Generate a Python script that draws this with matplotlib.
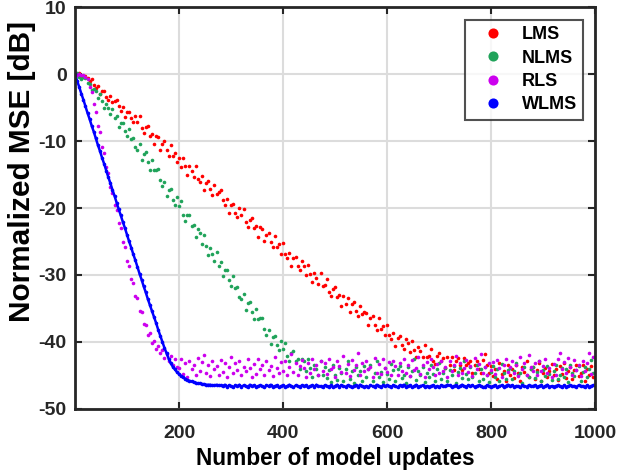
import numpy as np
import matplotlib
matplotlib.use('Agg')
import matplotlib.pyplot as plt

plt.rcParams['font.family'] = ['Liberation Sans', 'DejaVu Sans']
plt.rcParams['font.weight'] = 'bold'
plt.rcParams['axes.unicode_minus'] = False

# sample index (every 4th model update)
updates = np.arange(0, 1000, 4)

lms = [
    0.1, -0.2, 0.2, -0.3, -0.5, -0.3, -0.6, -1.1, -0.8, -1.6,
    -2.1, -1.8, -2.9, -2.5, -2.5, -3.4, -3.9, -3.2, -4.1, -4.0,
    -3.8, -4.8, -5.5, -4.9, -6.4, -5.6, -5.6, -6.6, -7.1, -6.2,
    -7.1, -6.3, -8.1, -8.8, -7.9, -7.7, -9.2, -8.9, -10.5, -9.3,
    -9.4, -11.3, -10.4, -10.0, -11.4, -12.2, -10.6, -12.2, -11.8, -13.2,
    -12.5, -13.9, -12.5, -13.8, -15.0, -13.7, -14.5, -15.4, -13.8, -15.7,
    -16.1, -15.2, -17.3, -16.2, -15.9, -17.2, -18.1, -16.5, -17.9, -17.6,
    -17.3, -18.8, -19.6, -18.7, -20.7, -19.6, -19.4, -20.7, -21.4, -20.0,
    -21.1, -20.2, -22.1, -22.8, -21.8, -21.5, -23.0, -22.7, -24.4, -22.9,
    -23.1, -25.0, -24.0, -23.7, -25.1, -25.8, -24.2, -25.8, -25.4, -26.8,
    -25.3, -26.8, -27.5, -26.7, -28.7, -27.5, -27.3, -28.7, -29.3, -27.9,
    -28.6, -30.0, -28.5, -29.9, -31.0, -29.7, -30.4, -31.3, -29.7, -31.6,
    -31.5, -30.6, -32.5, -33.2, -32.1, -31.8, -33.3, -33.0, -34.6, -33.2,
    -34.4, -33.4, -35.6, -34.4, -34.0, -35.4, -36.2, -34.6, -35.9, -35.6,
    -35.7, -37.5, -36.5, -36.1, -37.5, -38.2, -36.5, -38.0, -37.6, -39.0,
    -37.5, -38.9, -39.6, -38.7, -40.6, -39.4, -39.1, -40.4, -41.0, -39.5,
    -40.2, -41.5, -39.9, -41.2, -42.2, -40.8, -41.4, -42.2, -40.5, -42.3,
    -42.1, -41.0, -42.8, -43.3, -42.1, -41.6, -42.9, -42.4, -43.9, -42.3,
    -43.4, -42.3, -44.2, -42.9, -42.4, -43.5, -44.2, -42.4, -43.5, -43.1,
    -42.9, -44.6, -43.4, -42.9, -44.0, -44.6, -42.7, -41.8, -43.5, -44.7,
    -43.6, -45.1, -44.0, -45.6, -43.2, -44.8, -44.3, -45.9, -43.5, -44.9,
    -44.1, -45.4, -43.4, -44.7, -45.8, -43.8, -44.5, -42.9, -45.2, -44.0,
    -43.7, -45.5, -44.2, -43.1, -45.9, -44.6, -43.9, -45.3, -44.4, -43.3,
    -45.0, -44.1, -45.7, -43.6, -44.8, -43.2, -45.4, -44.3, -43.8, -45.6,
    -44.2, -43.5, -45.1, -44.7, -43.4, -45.8, -44.0, -44.9, -43.6, -45.2,
]

nlms = [
    0.0, 0.2, -0.4, -0.7, -0.5, -0.6, -1.3, -1.5, -2.4, -2.2,
    -2.5, -3.6, -3.0, -4.0, -5.0, -4.4, -5.1, -5.9, -5.2, -6.5,
    -6.2, -7.9, -7.3, -7.3, -8.5, -9.3, -8.2, -9.7, -9.6, -10.9,
    -11.3, -10.5, -12.8, -11.9, -11.7, -13.2, -14.3, -12.8, -14.3, -14.3,
    -14.1, -15.8, -16.7, -16.1, -18.2, -17.3, -17.2, -18.8, -19.6, -18.4,
    -19.7, -19.0, -21.1, -22.0, -21.1, -21.0, -22.7, -22.6, -24.4, -23.2,
    -23.8, -25.4, -24.1, -25.7, -27.0, -25.9, -26.8, -27.9, -26.5, -28.6,
    -28.0, -30.1, -29.3, -29.2, -30.7, -31.7, -30.2, -32.0, -31.8, -33.3,
    -33.6, -32.8, -35.2, -34.2, -34.0, -35.6, -36.6, -35.1, -36.6, -36.5,
    -36.4, -38.0, -38.9, -38.2, -40.3, -39.2, -39.1, -40.5, -41.2, -39.8,
    -41.0, -40.1, -42.1, -42.8, -41.7, -41.4, -42.9, -42.5, -44.1, -42.6,
    -42.9, -44.4, -42.5, -43.9, -45.2, -43.4, -44.1, -44.9, -42.9, -44.9,
    -43.8, -45.4, -44.2, -46.0, -43.5, -44.9, -45.7, -43.9, -44.6, -45.8,
    -44.0, -42.9, -45.5, -44.4, -46.1, -43.7, -45.0, -44.3, -45.9, -43.6,
    -45.2, -44.1, -43.4, -45.8, -44.7, -42.8, -45.3, -44.5, -46.0, -43.9,
    -44.8, -45.6, -43.3, -44.2, -45.9, -44.0, -43.6, -45.4, -44.9, -46.2,
    -43.7, -45.1, -44.4, -42.6, -45.7, -44.3, -45.0, -43.8, -46.0, -44.6,
    -45.3, -43.5, -44.8, -45.9, -44.1, -43.2, -45.5, -44.7, -43.9, -45.8,
    -44.2, -45.0, -43.6, -46.1, -44.5, -43.9, -45.4, -42.9, -44.8, -45.6,
    -43.8, -45.2, -44.6, -43.4, -45.9, -44.1, -45.5, -43.7, -44.9, -46.0,
    -44.5, -43.6, -45.3, -44.0, -45.8, -43.3, -44.7, -45.5, -44.2, -43.9,
    -45.6, -44.4, -43.1, -45.0, -44.6, -46.1, -43.8, -44.9, -45.3, -44.1,
    -43.7, -45.4, -44.5, -42.8, -45.9, -44.2, -45.1, -43.6, -44.8, -45.7,
    -44.3, -43.5, -45.6, -44.9, -43.9, -45.2, -44.0, -46.0, -43.4, -44.7,
    -45.1, -44.2, -43.6, -45.8, -44.5, -43.8, -45.3, -44.1, -42.7, -44.6,
]

rls = [
    0.1, -0.1, 0.0, -0.2, -0.1, -0.5, -0.8, -1.9, -2.7, -4.5,
    -5.6, -7.8, -8.7, -10.9, -11.8, -13.9, -14.8, -16.9, -17.7, -19.5,
    -20.3, -22.3, -23.0, -25.1, -25.8, -27.9, -28.6, -30.6, -31.2, -33.1,
    -33.5, -35.4, -35.6, -37.3, -37.4, -38.9, -38.7, -40.1, -39.8, -41.0,
    -40.6, -41.7, -41.2, -42.4, -41.8, -42.9, -42.1, -43.4, -42.5, -43.7,
    -43.9, -42.6, -44.8, -43.1, -45.2, -42.9, -44.0, -43.5, -45.0, -42.4,
    -44.3, -43.0, -41.9, -44.7, -43.4, -45.1, -42.8, -44.1, -43.6, -44.9,
    -42.7, -44.5, -43.2, -45.3, -43.8, -42.3, -44.6, -43.1, -44.2, -42.9,
    -45.0, -43.7, -44.4, -42.5, -43.9, -45.2, -43.3, -44.8, -42.6, -44.0,
    -43.5, -44.9, -42.8, -44.2, -43.6, -45.1, -42.2, -43.9, -44.7, -43.0,
    -44.4, -42.9, -45.0, -43.7, -41.8, -44.5, -43.2, -44.9, -43.6, -42.7,
    -43.9, -45.3, -43.1, -44.6, -42.5, -44.0, -43.4, -45.0, -42.8, -44.3,
    -43.2, -44.8, -42.6, -44.1, -43.8, -45.2, -42.9, -43.6, -44.5, -42.1,
    -44.7, -43.3, -45.1, -42.7, -44.2, -43.5, -41.6, -44.9, -43.1, -44.4,
    -42.9, -44.1, -43.7, -45.2, -42.4, -44.6, -43.3, -44.8, -42.6, -43.9,
    -44.5, -43.0, -44.9, -42.8, -43.6, -45.0, -43.2, -44.3, -42.5, -44.7,
    -43.4, -45.1, -42.7, -44.2, -43.9, -42.3, -44.8, -43.5, -45.3, -43.0,
    -44.1, -42.6, -43.8, -45.0, -43.3, -44.6, -42.9, -44.4, -43.7, -45.2,
    -42.8, -44.3, -43.5, -42.1, -44.9, -43.2, -44.6, -43.9, -42.7, -44.5,
    -43.6, -45.1, -42.4, -44.0, -43.3, -41.8, -44.7, -43.8, -45.0, -43.1,
    -44.2, -43.0, -44.8, -42.7, -43.9, -45.2, -43.4, -42.6, -44.5, -43.7,
    -42.9, -44.6, -43.5, -45.1, -42.3, -44.0, -43.2, -44.9, -41.9, -43.8,
    -44.4, -43.1, -45.0, -42.8, -44.3, -43.6, -42.5, -44.7, -43.9, -45.2,
    -43.3, -44.9, -42.6, -41.7, -44.1, -43.0, -44.6, -42.4, -43.8, -45.0,
    -42.7, -44.2, -43.5, -45.1, -42.9, -44.4, -43.2, -41.6, -44.8, -42.3,
]

wlms = [
    0.0, -1.0, -1.9, -2.9, -3.8, -4.8, -5.8, -6.7, -7.7, -8.6,
    -9.6, -10.6, -11.5, -12.5, -13.4, -14.4, -15.4, -16.3, -17.3, -18.2,
    -19.2, -20.2, -21.1, -22.1, -23.0, -24.0, -25.0, -25.9, -26.9, -27.8,
    -28.8, -29.8, -30.7, -31.7, -32.6, -33.6, -34.5, -35.4, -36.3, -37.2,
    -38.2, -39.1, -40.0, -40.9, -41.7, -42.5, -43.2, -43.7, -44.1, -44.5,
    -44.8, -45.1, -45.3, -45.5, -45.7, -45.8, -45.9, -46.0, -46.1, -46.2,
    -46.2, -46.3, -46.3, -46.4, -46.4, -46.4, -46.5, -46.5, -46.4, -46.5,
    -46.5, -46.6, -46.4, -46.7, -46.5, -46.6, -46.8, -46.5, -46.6, -46.4,
    -46.7, -46.5, -46.6, -46.8, -46.4, -46.6, -46.5, -46.7, -46.6, -46.5,
    -46.6, -46.8, -46.5, -46.6, -46.4, -46.7, -46.6, -46.5, -46.8, -46.6,
    -46.5, -46.7, -46.6, -46.4, -46.6, -46.8, -46.5, -46.6, -46.7, -46.5,
    -46.6, -46.5, -46.8, -46.6, -46.5, -46.7, -46.4, -46.6, -46.6, -46.8,
    -46.5, -46.6, -46.7, -46.5, -46.8, -46.6, -46.4, -46.7, -46.5, -46.6,
    -46.7, -46.5, -46.6, -46.8, -46.6, -46.5, -46.7, -46.4, -46.6, -46.7,
    -46.6, -46.8, -46.5, -46.6, -46.7, -46.4, -46.6, -46.8, -46.5, -46.6,
    -46.5, -46.6, -46.7, -46.5, -46.6, -46.8, -46.5, -46.6, -46.4, -46.7,
    -46.6, -46.5, -46.8, -46.6, -46.4, -46.7, -46.6, -46.5, -46.7, -46.6,
    -46.7, -46.6, -46.5, -46.7, -46.6, -46.8, -46.5, -46.6, -46.6, -46.4,
    -46.5, -46.7, -46.6, -46.5, -46.8, -46.6, -46.4, -46.6, -46.7, -46.5,
    -46.6, -46.5, -46.7, -46.6, -46.5, -46.6, -46.8, -46.7, -46.5, -46.6,
    -46.7, -46.6, -46.5, -46.8, -46.6, -46.5, -46.7, -46.6, -46.4, -46.6,
    -46.5, -46.7, -46.6, -46.6, -46.8, -46.5, -46.6, -46.7, -46.5, -46.6,
    -46.6, -46.5, -46.7, -46.6, -46.5, -46.8, -46.6, -46.4, -46.7, -46.6,
    -46.7, -46.6, -46.5, -46.6, -46.8, -46.5, -46.7, -46.6, -46.5, -46.6,
    -46.6, -46.7, -46.5, -46.6, -46.6, -46.8, -46.5, -46.7, -46.6, -46.5,
]

labels = ['LMS', 'NLMS', 'RLS', 'WLMS']
colors = ['#ff0000', '#20a35a', '#cc00ee', '#0000ff']

fig = plt.figure(figsize=(6.2, 4.76), dpi=100)
ax = fig.add_axes([0.121, 0.141, 0.839, 0.844])

for series, lab, col in zip([lms, nlms, rls], labels[:3], colors[:3]):
    ax.plot(updates, series, linestyle='none', marker='o', markersize=2.6,
            markeredgewidth=0, color=col, label=lab)
ax.plot(updates, wlms, linestyle='-', linewidth=1.8, marker='o', markersize=2.6,
        markeredgewidth=0, color=colors[3], label=labels[3])

ax.set_xlim(0, 1000)
ax.set_ylim(-50, 10)
ax.set_xticks([200, 400, 600, 800, 1000])
ax.set_yticks(np.arange(-50, 11, 10))
ax.grid(True, color='#dcdcdc', linewidth=1.5)
ax.set_axisbelow(True)
ax.tick_params(direction='in', length=5, width=1.5, top=True, right=True,
               labelsize=14, colors='#262626')
ax.tick_params(axis='x', pad=11.5)
ax.tick_params(axis='y', pad=6)
for side in ax.spines.values():
    side.set_linewidth(2)
    side.set_color('#262626')
for t in ax.get_xticklabels() + ax.get_yticklabels():
    t.set_fontweight('bold')

ax.set_xlabel('Number of model updates', fontsize=16.3, fontweight='bold', labelpad=4)
ax.set_ylabel('Normalized MSE [dB]', fontsize=21.4, fontweight='bold')
ax.yaxis.set_label_coords(-0.075, 0.592)

leg = ax.legend(loc='upper right', fontsize=13, markerscale=2.8, frameon=True,
                fancybox=False, handlelength=2.4, handletextpad=0.4,
                borderpad=0.35, labelspacing=0.35, borderaxespad=0,
                bbox_to_anchor=(0.977, 0.968))
leg.get_frame().set_edgecolor('#262626')
leg.get_frame().set_linewidth(1.5)
for h in leg.get_lines():
    h.set_linestyle('none')
for t in leg.get_texts():
    t.set_fontweight('bold')

fig.savefig('out.png', dpi=100)
